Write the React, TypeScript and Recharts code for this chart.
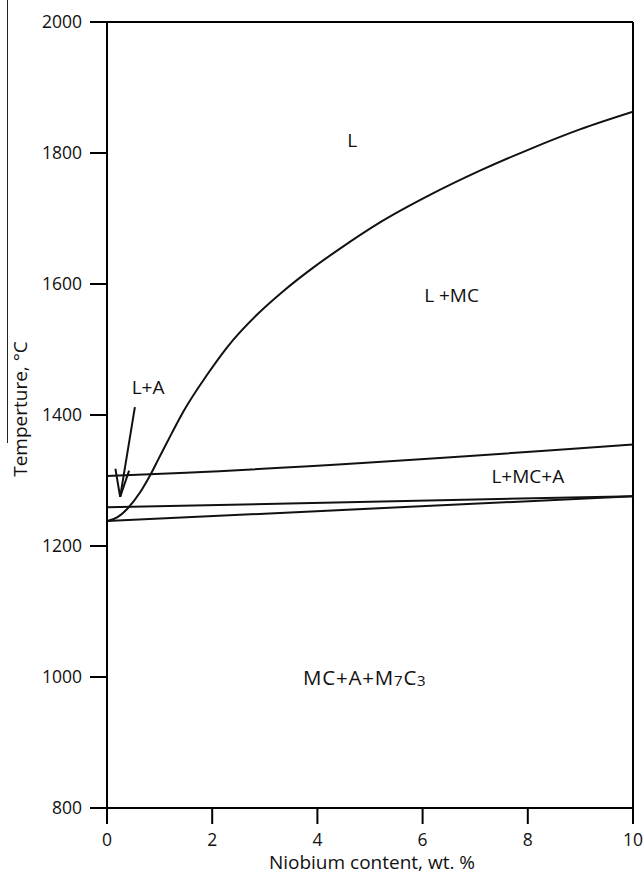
import React from 'react';
import { ComposedChart, Line, XAxis, YAxis, ReferenceLine, ReferenceDot } from 'recharts';

const xTicks = [0, 2, 4, 6, 8, 10];
const yTicks = [800, 1000, 1200, 1400, 1600, 1800, 2000];

// L / L+MC boundary (runs down into the L+A corner)
const liquidusNb = [0, 0.2, 0.4, 0.63, 0.82, 0.98, 1.23, 1.45, 1.9, 2.28, 2.85, 3.35, 3.92, 4.43, 5.19, 6.14, 7.09, 8.04, 8.99, 10];
const liquidusT = [1238, 1244, 1258, 1282, 1308, 1333, 1372, 1405, 1461, 1503, 1553, 1589, 1625, 1654, 1694, 1736, 1773, 1806, 1836, 1863];

// three near-horizontal boundaries
const upperNb = [0, 1.5, 10];
const upperT = [1307, 1312, 1355];
const middleNb = [0, 10];
const middleT = [1259, 1276];
const lowerNb = [0, 10];
const lowerT = [1238, 1276];

// arrow pointing to the L+A field
const arrowTail = { x: 0.53, y: 1412 };
const arrowTip = { x: 0.25, y: 1275 };
const arrowBarbs = [{ x: 0.16, y: 1318 }, { x: 0.42, y: 1315 }];

const phaseNames = ['L', 'L +MC', 'L+A', 'L+MC+A'];
const phaseNb = [4.66, 6.55, 0.78, 8.0];
const phaseT = [1819, 1583, 1442, 1306];
const solidNb = 4.9;
const solidT = 1000;

const toPoints = (xs: number[], ts: number[]) => xs.map((x, i) => ({ nb: x, t: ts[i] }));

const FONT = '"Open Sans", sans-serif';
const INK = '#111';
const textStyle = { fontFamily: FONT, fontSize: 19, fill: INK };
const tickStyle = { fontFamily: FONT, fontSize: 17.5, fill: INK };

const SolidLabel = (props: any) => {
  const { viewBox } = props;
  const cx = viewBox.x + viewBox.width / 2;
  const cy = viewBox.y + viewBox.height / 2;
  return (
    <text x={cx} y={cy} textAnchor="middle" dominantBaseline="central" {...textStyle} fontSize={20.5} letterSpacing={0.8}>
      MC+A+M
      <tspan fontSize={15} dy={3}>7</tspan>
      <tspan dy={-3}>C</tspan>
      <tspan fontSize={15} dy={3}>3</tspan>
    </text>
  );
};

export default function App() {
  return (
    <div style={{ position: 'absolute', left: 0, top: 0, width: 644, height: 875, background: '#fff' }}>
      <div style={{ position: 'absolute', left: 7, top: 0, width: 0, height: 443, borderLeft: '1.5px solid #222' }} />
      <ComposedChart width={644} height={875} margin={{ top: 22, right: 11, bottom: 7, left: 0 }}>
        <XAxis
          type="number"
          dataKey="nb"
          domain={[0, 10]}
          ticks={xTicks}
          allowDataOverflow
          height={60}
          tickSize={16}
          tickMargin={10}
          axisLine={{ stroke: '#000', strokeWidth: 2 }}
          tickLine={{ stroke: '#000', strokeWidth: 2 }}
          tick={tickStyle}
          label={{
            content: ({ viewBox }: any) => (
              <text x={viewBox.x + viewBox.width / 2 + 2} y={viewBox.y + 61} textAnchor="middle" {...textStyle}>
                Niobium content, wt. %
              </text>
            ),
          }}
        />
        <YAxis
          type="number"
          dataKey="t"
          domain={[800, 2000]}
          ticks={yTicks}
          allowDataOverflow
          width={107}
          tickSize={17}
          tickMargin={8}
          axisLine={{ stroke: '#000', strokeWidth: 2 }}
          tickLine={{ stroke: '#000', strokeWidth: 2 }}
          tick={tickStyle}
          label={{
            content: ({ viewBox }: any) => {
              const cx = viewBox.x + 20;
              const cy = viewBox.y + viewBox.height / 2 - 6;
              return (
                <text x={cx} y={cy} transform={`rotate(-90 ${cx} ${cy})`} textAnchor="middle" dominantBaseline="central" {...textStyle}>
                  Temperture, °C
                </text>
              );
            },
          }}
        />
        <ReferenceLine y={2000} stroke="#000" strokeWidth={2} />
        <ReferenceLine x={10} stroke="#000" strokeWidth={2} />

        <Line data={toPoints(upperNb, upperT)} dataKey="t" type="monotone" stroke={INK} strokeWidth={2} dot={false} isAnimationActive={false} />
        <Line data={toPoints(middleNb, middleT)} dataKey="t" type="linear" stroke={INK} strokeWidth={2} dot={false} isAnimationActive={false} />
        <Line data={toPoints(lowerNb, lowerT)} dataKey="t" type="linear" stroke={INK} strokeWidth={2} dot={false} isAnimationActive={false} />
        <Line data={toPoints(liquidusNb, liquidusT)} dataKey="t" type="monotone" stroke={INK} strokeWidth={2} dot={false} isAnimationActive={false} />

        <ReferenceLine segment={[arrowTail, arrowTip]} stroke={INK} strokeWidth={2} />
        {arrowBarbs.map((b, i) => (
          <ReferenceLine key={i} segment={[b, arrowTip]} stroke={INK} strokeWidth={2} />
        ))}

        {phaseNames.map((name, i) => (
          <ReferenceDot
            key={name}
            x={phaseNb[i]}
            y={phaseT[i]}
            r={0}
            stroke="none"
            label={{ value: name, position: 'center', ...textStyle }}
          />
        ))}
        <ReferenceDot x={solidNb} y={solidT} r={0} stroke="none" label={{ content: (p: any) => <SolidLabel {...p} /> }} />
      </ComposedChart>
    </div>
  );
}
